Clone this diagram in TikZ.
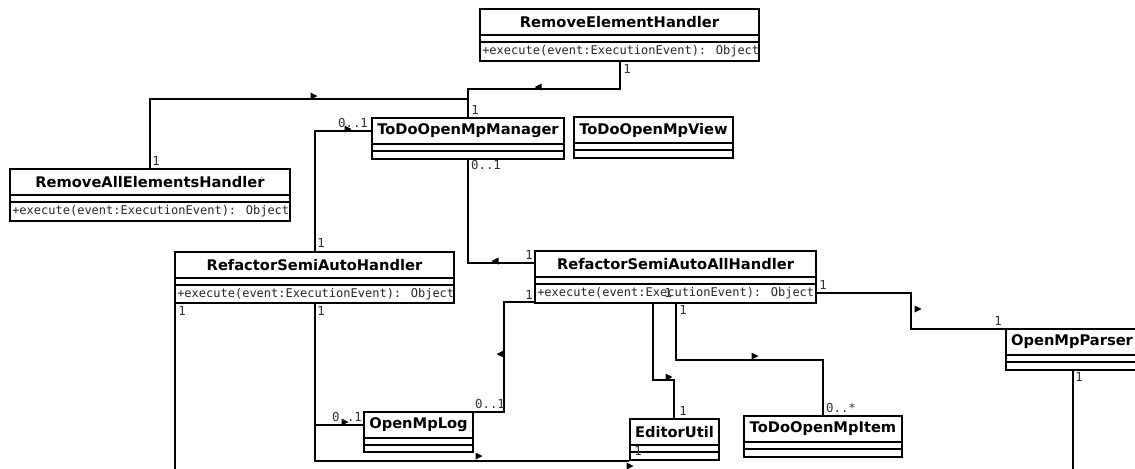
\documentclass[tikz,border=0pt]{standalone}
\usepackage{fontspec}
\setmainfont{DejaVu Sans}
\newfontfamily\umlmono{DejaVu Sans Mono}
\usetikzlibrary{fit}

% UML class box: name, left, top, right, bottom, class name, operation
\newcommand\umlclass[7]{%
  \node[classbox, fit={(#2,#3) (#4,#5)}] (#1) {};
  \node[classtitle] (#1-title) at ({(#2+#4)/2},{#3+13}) {#6};
  \draw[sepline] (#2,{#3+26}) -- (#4,{#3+26});
  \draw[sepline] (#2,{#3+33}) -- (#4,{#3+33});
  \node[classop] (#1-op) at ({#2+2},{#3+42.5}) {#7};
}

\begin{document}
\begin{tikzpicture}[x=0.75pt,y=-0.75pt,
  classbox/.style={draw, line width=1.4pt, inner sep=0pt, fill=white},
  sepline/.style={line width=1.2pt},
  classtitle/.style={font=\bfseries\fontsize{11}{12}\selectfont, inner sep=0pt},
  classop/.style={font=\umlmono\fontsize{9}{10}\selectfont, inner sep=0pt, anchor=west, text=black!85},
  assoc/.style={line width=1.4pt},
  mult/.style={font=\umlmono\fontsize{9.3}{10}\selectfont, inner sep=0pt, text=black!80},
  nav/.pic={\fill (-3.5,-3.5) -- (3.5,0) -- (-3.5,3.5) -- cycle;},
]
\useasboundingbox (0,0) rectangle (1135,468);
\fill[white] (0,0) rectangle (1135,468);
\clip (0,0) rectangle (1135,468);

% classes
\umlclass{reh}{480}{9}{759}{61}{RemoveElementHandler}{+execute(event:ExecutionEvent): Object}
\umlclass{mgr}{372}{118}{564}{159}{ToDoOpenMpManager}{}
\umlclass{view}{574}{117}{733}{158}{ToDoOpenMpView}{}
\umlclass{raeh}{10}{169}{290}{221}{RemoveAllElementsHandler}{+execute(event:ExecutionEvent): Object}
\umlclass{rsah}{175}{252}{454}{303}{RefactorSemiAutoHandler}{+execute(event:ExecutionEvent): Object}
\umlclass{rsaah}{535}{251}{816}{303}{RefactorSemiAutoAllHandler}{+execute(event:ExecutionEvent): Object}
\umlclass{log}{364}{412}{473}{452}{OpenMpLog}{}
\umlclass{eu}{630}{419}{719}{460}{EditorUtil}{}
\umlclass{item}{744}{416}{902}{457}{ToDoOpenMpItem}{}
\umlclass{parser}{1006}{329}{1138}{370}{OpenMpParser}{}

% loose ends running past the lower edge
\coordinate (rsah-out) at (175,480);
\coordinate (parser-out) at (1073,480);

% associations
\draw[assoc] (reh.south -| 620,0) |- (468,89) -- (mgr.north -| 468,0);
\draw[assoc] (raeh.north -| 150,0) |- (468,99) -- (mgr.north -| 468,0);
\draw[assoc] (rsah.north -| 315,0) |- (mgr.west |- 0,131);
\draw[assoc] (mgr.south -| 468,0) |- (rsaah.west |- 0,263);
\draw[assoc] (rsaah.west |- 0,302) -| (504,412) -- (log.east |- 0,412);
\draw[assoc] (rsah.south -| 315,0) |- (log.west |- 0,425);
\draw[assoc] (rsah.south -| 315,0) |- (eu.south west);
\draw[assoc] (rsah.south -| 175,0) -- (rsah-out);
\draw[assoc] (rsaah.south -| 653,0) |- (674,380) -- (eu.north -| 674,0);
\draw[assoc] (rsaah.south -| 676,0) |- (823,360) -- (item.north -| 823,0);
\draw[assoc] (rsaah.east |- 0,293) -| (911,329) -- (parser.west |- 0,329);
\draw[assoc] (parser.south -| 1073,0) -- (parser-out);

% navigation triangles
\pic[rotate=180] at (538,87) {nav};
\pic at (314,96) {nav};
\pic at (348,129) {nav};
\pic[rotate=180] at (495,261) {nav};
\pic[rotate=180] at (500,354) {nav};
\pic at (345,422) {nav};
\pic at (479,456) {nav};
\pic at (669,377) {nav};
\pic at (755,356) {nav};
\pic at (918,309) {nav};
\pic at (630,466) {nav};

% multiplicities
\node[mult] (m1) at (627,69) {1};
\node[mult] (m2) at (475,110) {1};
\node[mult] (m3) at (156,161) {1};
\node[mult] (m4) at (353,123) {0..1};
\node[mult] (m5) at (486,165) {0..1};
\node[mult] (m6) at (321,243) {1};
\node[mult] (m7) at (529,255) {1};
\node[mult] (m8) at (529,295) {1};
\node[mult] (m9) at (182,311) {1};
\node[mult] (m10) at (321,311) {1};
\node[mult] (m11) at (347,417) {0..1};
\node[mult] (m12) at (490,404) {0..1};
\node[mult] (m13) at (668,293) {1};
\node[mult] (m14) at (683,310) {1};
\node[mult] (m15) at (683,411) {1};
\node[mult] (m16) at (638,451) {1};
\node[mult] (m17) at (841,408) {0..*};
\node[mult] (m18) at (823,285) {1};
\node[mult] (m19) at (998,321) {1};
\node[mult] (m20) at (1079,377) {1};
\end{tikzpicture}
\end{document}
